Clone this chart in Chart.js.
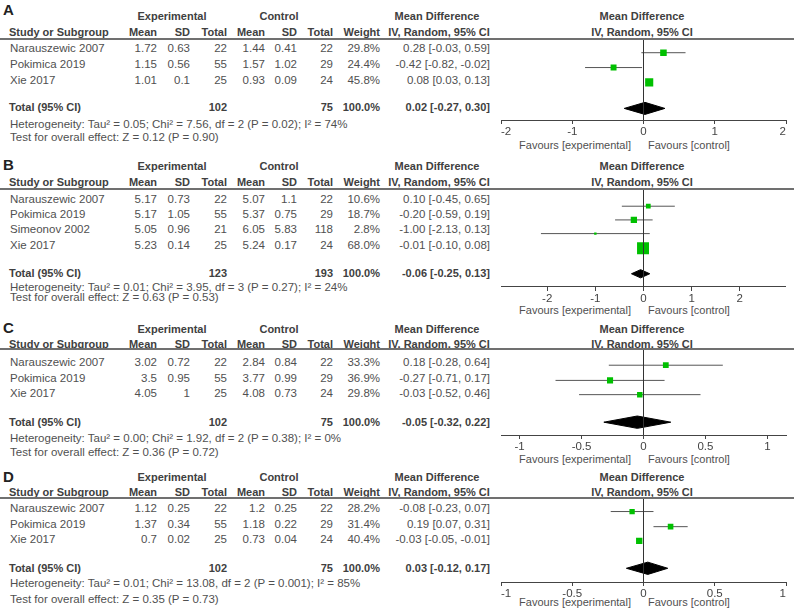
<!DOCTYPE html>
<html>
<head>
<meta charset="utf-8">
<script src="https://cdn.jsdelivr.net/npm/chart.js@4.4.0/dist/chart.umd.min.js"></script>
<style>
  html, body { margin: 0; padding: 0; background: #fff; }
  #page { position: relative; width: 794px; height: 616px; overflow: hidden;
    font-family: 'Liberation Sans', Arial, sans-serif; font-size: 11.5px; color: #505050; }
  .t { position: absolute; white-space: nowrap; line-height: 14px; }
  .b { font-weight: bold; font-size: 11px; color: #404040; }
  .fav { font-size: 11px; }
  .letter { font-weight: bold; font-size: 15px; color: #222; }
  .rule { position: absolute; left: 0; width: 794px; height: 2px; background: #707070; }
  .zero { position: absolute; width: 1px; background: #333; z-index: 2; }
  canvas { position: absolute; z-index: 1; background: transparent; }
</style>
</head>
<body>
<div id="page"></div>
<script>
// Panel A
var A_STUDY = ['Narauszewic 2007', 'Pokimica 2019', 'Xie 2017'];
var A_EXP_MEAN = [1.72, 1.15, 1.01];
var A_EXP_SD = [0.63, 0.56, 0.1];
var A_EXP_N = [22, 55, 25];
var A_CTL_MEAN = [1.44, 1.57, 0.93];
var A_CTL_SD = [0.41, 1.02, 0.09];
var A_CTL_N = [22, 29, 24];
var A_WEIGHT = [29.8, 24.4, 45.8];
var A_MD = [0.28, -0.42, 0.08];
var A_LO = [-0.03, -0.82, 0.03];
var A_HI = [0.59, -0.02, 0.13];
var A_TOTAL_N = [102, 75];
var A_POOLED = [0.02, -0.27, 0.30];
var A_HET = ['0.05', '7.56', '2', '0.02', '74'];
var A_TEST = ['0.12', '0.90'];
var A_TICKS = [-2, -1, 0, 1, 2];

// Panel B
var B_STUDY = ['Narauszewic 2007', 'Pokimica 2019', 'Simeonov 2002', 'Xie 2017'];
var B_EXP_MEAN = [5.17, 5.17, 5.05, 5.23];
var B_EXP_SD = [0.73, 1.05, 0.96, 0.14];
var B_EXP_N = [22, 55, 21, 25];
var B_CTL_MEAN = [5.07, 5.37, 6.05, 5.24];
var B_CTL_SD = [1.1, 0.75, 5.83, 0.17];
var B_CTL_N = [22, 29, 118, 24];
var B_WEIGHT = [10.6, 18.7, 2.8, 68.0];
var B_MD = [0.10, -0.20, -1.00, -0.01];
var B_LO = [-0.45, -0.59, -2.13, -0.10];
var B_HI = [0.65, 0.19, 0.13, 0.08];
var B_TOTAL_N = [123, 193];
var B_POOLED = [-0.06, -0.25, 0.13];
var B_HET = ['0.01', '3.95', '3', '0.27', '24'];
var B_TEST = ['0.63', '0.53'];
var B_TICKS = [-2, -1, 0, 1, 2];

// Panel C
var C_STUDY = ['Narauszewic 2007', 'Pokimica 2019', 'Xie 2017'];
var C_EXP_MEAN = [3.02, 3.5, 4.05];
var C_EXP_SD = [0.72, 0.95, 1];
var C_EXP_N = [22, 55, 25];
var C_CTL_MEAN = [2.84, 3.77, 4.08];
var C_CTL_SD = [0.84, 0.99, 0.73];
var C_CTL_N = [22, 29, 24];
var C_WEIGHT = [33.3, 36.9, 29.8];
var C_MD = [0.18, -0.27, -0.03];
var C_LO = [-0.28, -0.71, -0.52];
var C_HI = [0.64, 0.17, 0.46];
var C_TOTAL_N = [102, 75];
var C_POOLED = [-0.05, -0.32, 0.22];
var C_HET = ['0.00', '1.92', '2', '0.38', '0'];
var C_TEST = ['0.36', '0.72'];
var C_TICKS = [-1, -0.5, 0, 0.5, 1];

// Panel D
var D_STUDY = ['Narauszewic 2007', 'Pokimica 2019', 'Xie 2017'];
var D_EXP_MEAN = [1.12, 1.37, 0.7];
var D_EXP_SD = [0.25, 0.34, 0.02];
var D_EXP_N = [22, 55, 25];
var D_CTL_MEAN = [1.2, 1.18, 0.73];
var D_CTL_SD = [0.25, 0.22, 0.04];
var D_CTL_N = [22, 29, 24];
var D_WEIGHT = [28.2, 31.4, 40.4];
var D_MD = [-0.08, 0.19, -0.03];
var D_LO = [-0.23, 0.07, -0.05];
var D_HI = [0.07, 0.31, -0.01];
var D_TOTAL_N = [102, 75];
var D_POOLED = [0.03, -0.12, 0.17];
var D_HET = ['0.01', '13.08', '2', '0.001', '85'];
var D_TEST = ['0.35', '0.73'];
var D_TICKS = [-1, -0.5, 0, 0.5, 1];

(function() {
  'use strict';

  var FONT = "'Liberation Sans', Arial, sans-serif";
  var GREEN = '#00c000';
  var AXIS_H = 20;
  var CANVAS_LEFT = 493;
  var CANVAS_W = 301;
  var PAD_X = 8;

  // column anchors (x, px)
  var COL = {
    study: 10, expMean: 157, expSd: 190, expN: 227,
    ctlMean: 265, ctlSd: 297, ctlN: 333, weight: 380, md: 490,
    expHead: 172, ctlHead: 279, mdHead: 437, plotHead: 642,
    favLeft: 631, favRight: 648
  };

  var PANELS = [
    {
      letter: 'A', study: A_STUDY, expMean: A_EXP_MEAN, expSd: A_EXP_SD, expN: A_EXP_N,
      ctlMean: A_CTL_MEAN, ctlSd: A_CTL_SD, ctlN: A_CTL_N, weight: A_WEIGHT,
      md: A_MD, lo: A_LO, hi: A_HI, totalN: A_TOTAL_N, pooled: A_POOLED,
      het: A_HET, test: A_TEST, ticks: A_TICKS, range: 2,
      y: { letter: 10, head1: 15.5, head2: 32, rule: 38, row0: 47.7, pitch: 15.65,
        total: 107.3, het: 123.5, test: 137, axis: 120, fav: 145 },
      diamond: 6.5, square: 1.2
    },
    {
      letter: 'B', study: B_STUDY, expMean: B_EXP_MEAN, expSd: B_EXP_SD, expN: B_EXP_N,
      ctlMean: B_CTL_MEAN, ctlSd: B_CTL_SD, ctlN: B_CTL_N, weight: B_WEIGHT,
      md: B_MD, lo: B_LO, hi: B_HI, totalN: B_TOTAL_N, pooled: B_POOLED,
      het: B_HET, test: B_TEST, ticks: B_TICKS, range: 2.95,
      y: { letter: 165, head1: 166, head2: 181.7, rule: 188, row0: 198.3, pitch: 15.33,
        total: 272.7, het: 286.7, test: 297, axis: 287, fav: 310 },
      diamond: 4.5, square: 1.45
    },
    {
      letter: 'C', study: C_STUDY, expMean: C_EXP_MEAN, expSd: C_EXP_SD, expN: C_EXP_N,
      ctlMean: C_CTL_MEAN, ctlSd: C_CTL_SD, ctlN: C_CTL_N, weight: C_WEIGHT,
      md: C_MD, lo: C_LO, hi: C_HI, totalN: C_TOTAL_N, pooled: C_POOLED,
      het: C_HET, test: C_TEST, ticks: C_TICKS, range: 1.15,
      y: { letter: 328.3, head1: 329, head2: 344.3, rule: 348, row0: 361.7, pitch: 15.3,
        total: 421.7, het: 437.7, test: 451.7, axis: 435, fav: 459 },
      diamond: 6.5, square: 1.0
    },
    {
      letter: 'D', study: D_STUDY, expMean: D_EXP_MEAN, expSd: D_EXP_SD, expN: D_EXP_N,
      ctlMean: D_CTL_MEAN, ctlSd: D_CTL_SD, ctlN: D_CTL_N, weight: D_WEIGHT,
      md: D_MD, lo: D_LO, hi: D_HI, totalN: D_TOTAL_N, pooled: D_POOLED,
      het: D_HET, test: D_TEST, ticks: D_TICKS, range: 1,
      y: { letter: 477, head1: 476.7, head2: 491.7, rule: 497, row0: 507.7, pitch: 15.3,
        total: 567.7, het: 583.3, test: 599, axis: 582, fav: 601.7 },
      diamond: 6.5, square: 1.0
    }
  ];

  var page = document.getElementById('page');

  function addText(str, x, y, align, cls) {
    var el = document.createElement('div');
    el.className = 't' + (cls ? ' ' + cls : '');
    el.textContent = str;
    el.style.left = x + 'px';
    el.style.top = y + 'px';
    var tx = align === 'right' ? '-100%' : (align === 'center' ? '-50%' : '0');
    el.style.transform = 'translate(' + tx + ',-50%)';
    page.appendChild(el);
  }

  function ci(md, lo, hi) {
    return md.toFixed(2) + ' [' + lo.toFixed(2) + ', ' + hi.toFixed(2) + ']';
  }

  function rowY(p, i) {
    return Math.floor(p.y.row0 + i * p.y.pitch) + 0.5;
  }

  function drawTable(p) {
    var y = p.y;
    addText(p.letter, 3, y.letter, 'left', 'letter');

    addText('Experimental', COL.expHead, y.head1, 'center', 'b');
    addText('Control', COL.ctlHead, y.head1, 'center', 'b');
    addText('Mean Difference', COL.mdHead, y.head1, 'center', 'b');
    addText('Mean Difference', COL.plotHead, y.head1, 'center', 'b');

    addText('Study or Subgroup', COL.study - 1, y.head2, 'left', 'b');
    addText('Mean', COL.expMean, y.head2, 'right', 'b');
    addText('SD', COL.expSd, y.head2, 'right', 'b');
    addText('Total', COL.expN, y.head2, 'right', 'b');
    addText('Mean', COL.ctlMean, y.head2, 'right', 'b');
    addText('SD', COL.ctlSd, y.head2, 'right', 'b');
    addText('Total', COL.ctlN, y.head2, 'right', 'b');
    addText('Weight', COL.weight, y.head2, 'right', 'b');
    addText('IV, Random, 95% CI', COL.mdHead + 2, y.head2, 'center', 'b');
    addText('IV, Random, 95% CI', COL.plotHead, y.head2, 'center', 'b');

    var rule = document.createElement('div');
    rule.className = 'rule';
    rule.style.top = y.rule + 'px';
    page.appendChild(rule);

    p.study.forEach(function(name, i) {
      var ry = rowY(p, i);
      addText(name, COL.study, ry, 'left');
      addText(String(p.expMean[i]), COL.expMean, ry, 'right');
      addText(String(p.expSd[i]), COL.expSd, ry, 'right');
      addText(String(p.expN[i]), COL.expN, ry, 'right');
      addText(String(p.ctlMean[i]), COL.ctlMean, ry, 'right');
      addText(String(p.ctlSd[i]), COL.ctlSd, ry, 'right');
      addText(String(p.ctlN[i]), COL.ctlN, ry, 'right');
      addText(p.weight[i].toFixed(1) + '%', COL.weight, ry, 'right');
      addText(ci(p.md[i], p.lo[i], p.hi[i]), COL.md, ry, 'right');
    });

    addText('Total (95% CI)', COL.study - 1, y.total, 'left', 'b');
    addText(String(p.totalN[0]), COL.expN, y.total, 'right', 'b');
    addText(String(p.totalN[1]), COL.ctlN, y.total, 'right', 'b');
    addText('100.0%', COL.weight, y.total, 'right', 'b');
    addText(ci(p.pooled[0], p.pooled[1], p.pooled[2]), COL.md, y.total, 'right', 'b');

    addText('Heterogeneity: Tau\u00b2 = ' + p.het[0] + '; Chi\u00b2 = ' + p.het[1] + ', df = ' + p.het[2] +
      ' (P = ' + p.het[3] + '); I\u00b2 = ' + p.het[4] + '%', COL.study, y.het, 'left');
    addText('Test for overall effect: Z = ' + p.test[0] + ' (P = ' + p.test[1] + ')', COL.study, y.test, 'left');

    addText('Favours [experimental]', COL.favLeft, y.fav, 'right', 'fav');
    addText('Favours [control]', COL.favRight, y.fav, 'left', 'fav');
  }

  function drawPlot(p) {
    var top = p.y.rule + 2;
    var plotH = p.y.axis - top;
    var canvas = document.createElement('canvas');
    canvas.width = CANVAS_W;
    canvas.height = plotH + AXIS_H;
    canvas.style.left = CANVAS_LEFT + 'px';
    canvas.style.top = top + 'px';
    page.appendChild(canvas);

    var rows = p.study.map(function(s, i) { return rowY(p, i); });
    var datasets = [];

    p.md.forEach(function(m, i) {
      datasets.push({
        data: [{ x: p.lo[i], y: rows[i] }, { x: p.hi[i], y: rows[i] }],
        showLine: true, borderColor: '#555', borderWidth: 1, pointRadius: 0, order: 3
      });
    });

    datasets.push({
      data: p.md.map(function(m, i) { return { x: m, y: rows[i] }; }),
      pointStyle: 'rect',
      pointRadius: function(ctx) {
        return p.square * Math.sqrt(p.weight[ctx.dataIndex]) / Math.SQRT2;
      },
      backgroundColor: GREEN,
      borderWidth: 0,
      order: 1
    });

    var t = Math.floor(p.y.total) + 0.5;
    var h = p.diamond;
    datasets.push({
      data: [
        { x: p.pooled[1], y: t }, { x: p.pooled[0], y: t - h },
        { x: p.pooled[2], y: t }, { x: p.pooled[0], y: t + h },
        { x: p.pooled[1], y: t }
      ],
      showLine: true, fill: 'shape', tension: 0,
      backgroundColor: '#000', borderColor: '#000', borderWidth: 1, pointRadius: 0, order: 2
    });

    var edgeTicks = p.ticks[0] === -p.range;

    var chart = new Chart(canvas, {
      type: 'scatter',
      data: { datasets: datasets },
      options: {
        responsive: false,
        animation: false,
        events: [],
        layout: { padding: { left: PAD_X, right: PAD_X, top: 0, bottom: 0 } },
        plugins: { legend: { display: false }, tooltip: { enabled: false } },
        scales: {
          x: {
            type: 'linear',
            min: -p.range,
            max: p.range,
            afterBuildTicks: function(scale) {
              scale.ticks = p.ticks.map(function(v) { return { value: v }; });
            },
            afterFit: function(scale) { scale.height = AXIS_H; },
            grid: {
              drawOnChartArea: false,
              tickColor: '#444',
              tickLength: 4,
              lineWidth: 1
            },
            border: { display: true, color: '#444', width: 1 },
            ticks: {
              color: '#444',
              font: { family: FONT, size: 11.5 },
              padding: 1,
              maxRotation: 0,
              autoSkip: false,
              align: edgeTicks ? 'inner' : 'center',
              callback: function(v) { return String(v); }
            }
          },
          y: {
            type: 'linear',
            display: false,
            reverse: true,
            min: top,
            max: p.y.axis
          }
        }
      }
    });

    // line of no effect, placed from the chart's own x scale, laid above the canvas
    var xs = chart.scales.x;
    var x0 = xs.getPixelForValue(0);
    if (!isFinite(x0)) x0 = (xs.left + xs.right) / 2;
    if (!isFinite(x0)) x0 = PAD_X + (CANVAS_W - 2 * PAD_X) / 2;
    var zero = document.createElement('div');
    zero.className = 'zero';
    zero.style.left = Math.round(CANVAS_LEFT + x0 - 0.5) + 'px';
    zero.style.top = top + 'px';
    zero.style.height = plotH + 'px';
    page.appendChild(zero);
  }

  PANELS.forEach(function(p) {
    drawTable(p);
    drawPlot(p);
  });
})();
</script>
</body>
</html>
